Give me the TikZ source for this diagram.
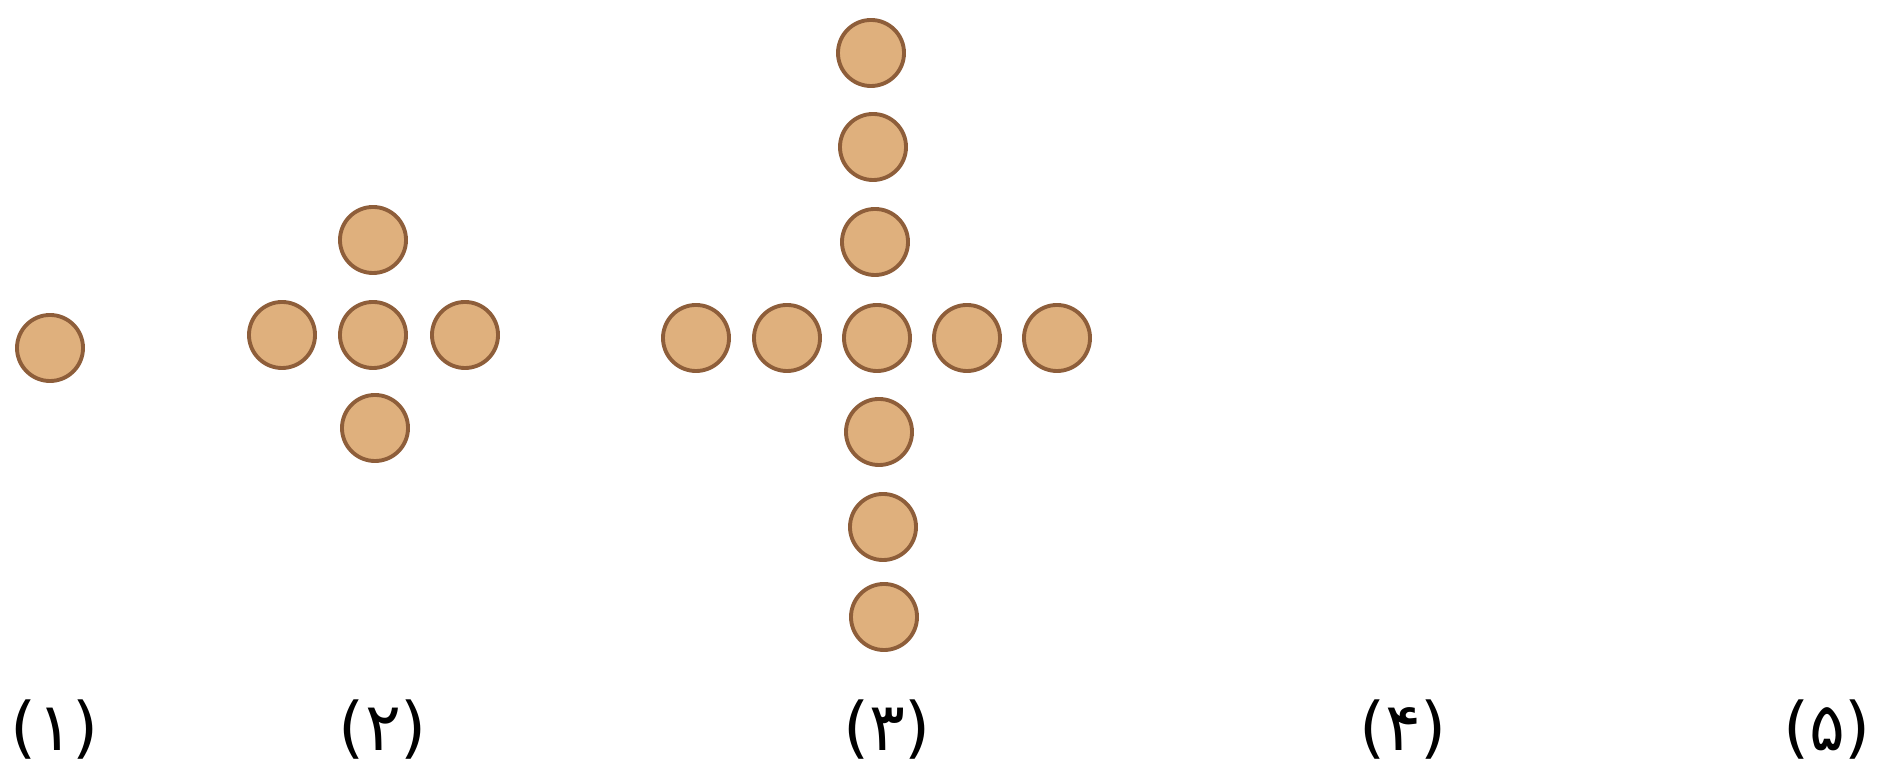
\documentclass[tikz,border=0pt]{standalone}
\usepackage{fontspec}
\usepackage{xcolor}
\usepackage{tikz}
\usetikzlibrary{positioning,calc}
\newfontfamily\persianfont[Script=Arabic]{DejaVu Sans}

\begin{document}
\begin{tikzpicture}[
    x=0.01cm,
    y=-0.01cm,
    coin/.style={circle, draw=coinEdge, fill=coinFill, line width=1.1pt, minimum size=0.66cm, inner sep=0pt},
    figlabel/.style={font=\persianfont\fontsize{19}{23}\selectfont, inner sep=0pt}
]

% 1 px of the reference = 0.01 cm, y grows downward
\definecolor{coinFill}{HTML}{DFB07D}
\definecolor{coinEdge}{HTML}{8E5E3A}

\useasboundingbox (0,0) rectangle (1879,768);

% Figure 1: a single coin
\node[coin] (f1c) at (50,348) {};

% Figure 2: centre coin and one arm of length 1
\node[coin] (f2c) at (373,335) {};
\foreach \dx/\dy/\nm in {-91/0/w, 92/0/e, 0/-95/n, 2/93/s}{
    \node[coin] (f2\nm) at ($(f2c)+(\dx,\dy)$) {};
}

% Figure 3: centre coin, arms of length 2 (across) and 3 (up and down)
\node[coin] (f3c) at (877,338) {};
\foreach \dx/\nm in {-181/w2, -90/w1, 90/e1, 180/e2}{
    \node[coin] (f3\nm) at ($(f3c)+(\dx,0)$) {};
}
\foreach \dx/\dy/\nm in {-6/-285/n3, -4/-191/n2, -2/-96/n1, 2/94/s1, 6/189/s2, 7/279/s3}{
    \node[coin] (f3\nm) at ($(f3c)+(\dx,\dy)$) {};
}

% Figure numbers
\foreach \x/\lab/\nm in {55/۱/1, 383/۲/2, 887/۳/3, 1403/۴/4, 1827/۵/5}{
    \node[figlabel] (lab\nm) at (\x,730) {(\lab)};
}

\end{tikzpicture}
\end{document}
